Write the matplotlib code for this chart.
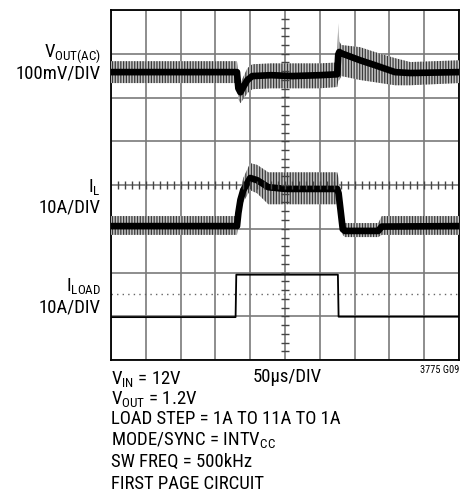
import numpy as np
import matplotlib
matplotlib.use("Agg")
import matplotlib.pyplot as plt

plt.rcParams["font.family"] = ["Roboto Condensed", "DejaVu Sans"]
plt.rcParams["mathtext.fontset"] = "custom"
plt.rcParams["mathtext.rm"] = "Roboto Condensed"
plt.rcParams["mathtext.it"] = "Roboto Condensed"
plt.rcParams["hatch.linewidth"] = 0.9

# time base in us (50us/DIV, 10 DIV)
# V_OUT(AC) in mV: middle of trace, top and bottom of ripple band
vout_t = [0, 181, 183, 186, 190, 196, 203, 230, 260, 300, 325, 326.5, 328, 331, 358, 379, 408, 430, 500]
vout_mid = [0, 0, -37, -46, -34, -18, -9, -7, -9, -7, -5, 40, 46, 43, 27, 16, 0, -2, 0]
vout_hi = [25, 25, -16, -25, -11, 9, 18, 20, 20, 20, 22, 112, 70, 62, 57, 46, 32, 23, 27]
vout_lo = [-25, -25, -62, -71, -62, -48, -39, -37, -37, -37, -34, -20, -18, -9, -18, -23, -30, -30, -25]

# inductor current I_L in A
il_t = [0, 181, 183, 186, 190, 200, 210, 226, 251, 325, 327, 333, 336, 384, 389, 500]
il_mid = [1.0, 1.0, 4.0, 7.0, 9.2, 12.0, 11.5, 9.9, 9.5, 9.5, 8.5, 0.3, -0.1, -0.1, 0.9, 1.0]
il_hi = [3.3, 3.3, 6.0, 9.2, 12.0, 15.4, 15.0, 13.3, 13.3, 13.3, 12.0, 2.0, 1.7, 1.7, 3.3, 3.3]
il_lo = [-1.0, -1.0, 2.0, 4.7, 6.5, 9.2, 8.5, 6.0, 6.0, 6.0, 5.0, -1.0, -1.5, -1.5, -1.0, -1.0]

# load current I_LOAD in A
iload_t = [0, 179, 180, 326, 327, 500]
iload_mid = [1.0, 1.0, 10.7, 10.7, 1.1, 1.1]

# channel scale (units/DIV) and zero position (DIV from bottom)
vout_scale, vout_zero = 100, 6.58
il_scale, il_zero = 10, 2.96
iload_scale, iload_zero = 10, 0.88

W, H = 477, 493
fig = plt.figure(figsize=(W / 100, H / 100), dpi=100)
ax = fig.add_axes([111 / W, 1 - 360 / H, 348 / W, 350 / H])
ax.set_xlim(0, 500)
ax.set_ylim(0, 8)

# graticule
ax.set_xticks(np.arange(0, 501, 50))
ax.set_yticks(np.arange(0, 9, 1))
ax.grid(True, color="#7a7a7a", lw=1.2)
ax.tick_params(length=0, labelbottom=False, labelleft=False)
for s in ax.spines.values():
    s.set_linewidth(1.3)
    s.set_color("black")
ax.set_axisbelow(True)
ax.axhline(1.5, color="#666666", lw=1, ls=(0, (1, 3)))

# center lines with minor ticks
ax2 = fig.add_axes(ax.get_position(), frameon=False)
ax2.set_xlim(0, 500)
ax2.set_ylim(0, 8)
ax2.spines["left"].set_visible(True)
ax2.spines["bottom"].set_visible(True)
ax2.spines["left"].set_position(("data", 250))
ax2.spines["bottom"].set_position(("data", 4))
for s in ("left", "bottom"):
    ax2.spines[s].set_color("#555555")
    ax2.spines[s].set_linewidth(1.2)
ax2.set_xticks([])
ax2.set_yticks([])
ax2.set_xticks(np.arange(10, 500, 10), minor=True)
ax2.set_yticks(np.arange(0.2, 8, 0.2), minor=True)
ax2.tick_params(which="minor", direction="inout", length=6, width=1, color="#444444",
                labelbottom=False, labelleft=False)
ax2.patch.set_visible(False)


def band(t, mid, hi, lo, scale, zero):
    t = np.asarray(t)
    mid = zero + np.asarray(mid) / scale
    hi = zero + np.asarray(hi) / scale
    lo = zero + np.asarray(lo) / scale
    ax.fill_between(t, lo, hi, facecolor="#c4c4c4", edgecolor="#3a3a3a",
                    hatch="||||||", lw=0, zorder=3)
    ax.plot(t, mid, color="black", lw=4.8, solid_joinstyle="round", zorder=4)


band(vout_t, vout_mid, vout_hi, vout_lo, vout_scale, vout_zero)
band(il_t, il_mid, il_hi, il_lo, il_scale, il_zero)
ax.plot(iload_t, iload_zero + np.asarray(iload_mid) / iload_scale,
        color="black", lw=1.3, zorder=4)


def ftext(x, y, s, **kw):
    fig.text(x / W, 1 - y / H, s, va="center", fontsize=13.5, **kw)


ftext(101, 54, r"V$_{\rm OUT(AC)}$", ha="right")
ftext(101, 73, "100mV/DIV", ha="right")
ftext(101, 187, r"I$_{\rm L}$", ha="right")
ftext(101, 208, "10A/DIV", ha="right")
ftext(101, 286, r"I$_{\rm LOAD}$", ha="right")
ftext(101, 307, "10A/DIV", ha="right")

ftext(111, 379, r"V$_{\rm IN}$ = 12V", ha="left")
ftext(253, 377, "50\u03bcs/DIV", ha="left")
fig.text(459 / W, 1 - 370 / H, "3775 G09", ha="right", va="center", fontsize=7.5)
ftext(111, 399, r"V$_{\rm OUT}$ = 1.2V", ha="left")
ftext(111, 419, "LOAD STEP = 1A TO 11A TO 1A", ha="left")
ftext(111, 440, r"MODE/SYNC = INTV$_{\rm CC}$", ha="left")
ftext(111, 462, "SW FREQ = 500kHz", ha="left")
ftext(111, 484, "FIRST PAGE CIRCUIT", ha="left")

fig.savefig("out.png", dpi=100)
